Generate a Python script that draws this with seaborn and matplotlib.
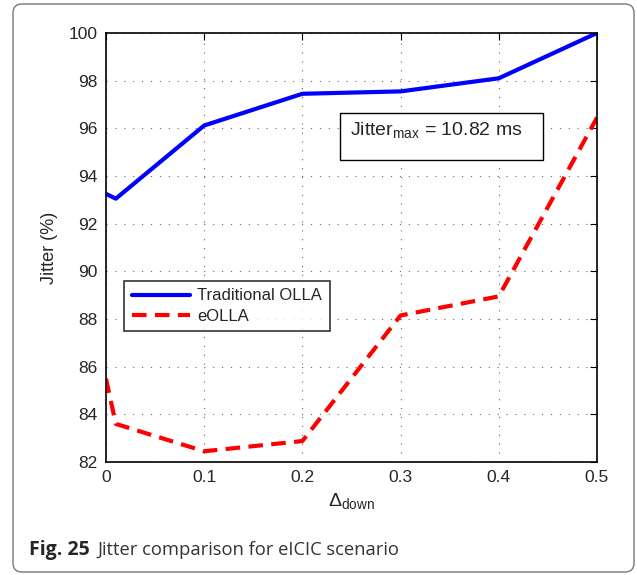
import numpy as np
import pandas as pd
import matplotlib
matplotlib.use('Agg')
import matplotlib.pyplot as plt
import seaborn as sns
from matplotlib.patches import FancyBboxPatch, Rectangle
from matplotlib.transforms import IdentityTransform

# data
delta_down = [0, 0.01, 0.1, 0.2, 0.3, 0.4, 0.5]
trad_olla = [93.25, 93.05, 96.12, 97.45, 97.55, 98.1, 100.0]
eolla = [85.5, 83.6, 82.45, 82.88, 88.15, 88.95, 96.45]
xticks = [0, 0.1, 0.2, 0.3, 0.4, 0.5]
yticks = [82, 84, 86, 88, 90, 92, 94, 96, 98, 100]

df = pd.DataFrame({'delta': delta_down * 2,
                   'jitter': trad_olla + eolla,
                   'scheme': ['Traditional OLLA'] * 7 + ['eOLLA'] * 7})

sns.set_style('white')
plt.rcParams['font.family'] = ['Liberation Sans', 'DejaVu Sans']
plt.rcParams['mathtext.fontset'] = 'custom'
plt.rcParams['mathtext.rm'] = 'Liberation Sans'
plt.rcParams['mathtext.it'] = 'Liberation Sans:italic'

fig = plt.figure(figsize=(6.37, 5.75), dpi=100)
ax = fig.add_axes([0.1664, 0.1965, 0.7708, 0.7461])

sns.lineplot(data=df, x='delta', y='jitter', hue='scheme', style='scheme',
             palette={'Traditional OLLA': '#0000ff', 'eOLLA': '#ff0000'},
             dashes={'Traditional OLLA': '', 'eOLLA': (3.5, 2)},
             linewidth=3, ax=ax, sort=False)

ax.set_xlim(0, 0.5)
ax.set_ylim(82, 100)
ax.set_xticks(xticks)
ax.set_xticklabels(['0', '0.1', '0.2', '0.3', '0.4', '0.5'])
ax.set_yticks(yticks)
ax.tick_params(direction='in', top=True, right=True, length=5, width=0.8,
               labelsize=12.5, color='black', pad=6)
ax.grid(True, linestyle=(0, (1, 7)), color='#666666', linewidth=0.8)
for s in ax.spines.values():
    s.set_color('black')
    s.set_linewidth(1.2)

ax.set_xlabel(r'$\Delta_{\mathrm{down}}$', fontsize=14, labelpad=4)
ax.set_ylabel('Jitter (%)', fontsize=13, labelpad=8)

leg = ax.legend(loc='upper left', bbox_to_anchor=(0.0367, 0.422), borderaxespad=0,
                fontsize=12, frameon=True, fancybox=False, edgecolor='black',
                handlelength=3.5, handletextpad=0.45, borderpad=0.45,
                labelspacing=0.32)
leg.get_frame().set_linewidth(1.2)

# annotation box
ax.add_patch(Rectangle((0.4766, 0.704), 0.4134, 0.1096, transform=ax.transAxes,
                       fc='white', ec='black', lw=1.0, zorder=5))
ax.text(0.497, 0.762, r'Jitter$_{\mathrm{max}}$ = 10.82 ms', transform=ax.transAxes,
        fontsize=14, va='baseline', ha='left', zorder=6)

# figure frame and caption
frame = FancyBboxPatch((13, 3), 621, 568, boxstyle='round,pad=0,rounding_size=9',
                       transform=IdentityTransform(), fc='none', ec='#777777', lw=1.0)
fig.add_artist(frame)
fig.text(29 / 637, 0.0348, 'Fig. 25', fontsize=14, fontweight='bold',
         family=['Open Sans', 'DejaVu Sans'], va='baseline')
fig.text(97 / 637, 0.0348, 'Jitter comparison for eICIC scenario', fontsize=13.2,
         family=['Open Sans', 'DejaVu Sans'], color='#333333', va='baseline')

plt.savefig('out.png', dpi=100)
